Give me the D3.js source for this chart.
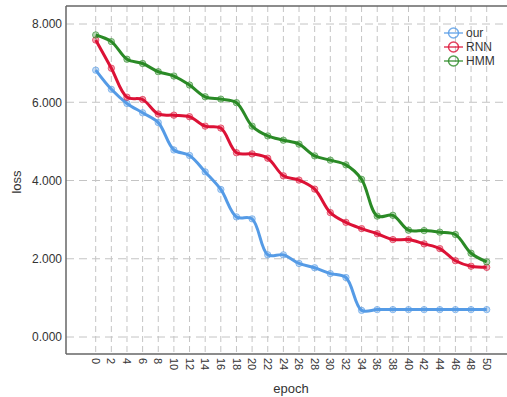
<!DOCTYPE html>
<html><head><meta charset="utf-8">
<script src="https://cdn.jsdelivr.net/npm/d3@7"></script>
<style>
html,body{margin:0;padding:0;background:#fff;}
svg{display:block;font-family:"Liberation Sans",Arial,sans-serif;}
</style></head>
<body><svg id="c" width="507" height="397"></svg>
<script>
const epochs = [0,2,4,6,8,10,12,14,16,18,20,22,24,26,28,30,32,34,36,38,40,42,44,46,48,50];
const ourLoss = [6.82,6.33,5.97,5.73,5.48,4.78,4.64,4.22,3.77,3.07,3.02,2.10,2.10,1.88,1.77,1.62,1.52,0.68,0.70,0.70,0.70,0.70,0.70,0.70,0.70,0.70];
const rnnLoss = [7.59,6.87,6.13,6.07,5.70,5.67,5.63,5.39,5.34,4.71,4.68,4.57,4.12,4.01,3.78,3.18,2.93,2.77,2.64,2.49,2.49,2.38,2.26,1.95,1.81,1.78];
const hmmLoss = [7.72,7.55,7.10,6.99,6.78,6.67,6.44,6.14,6.08,5.99,5.39,5.14,5.03,4.93,4.63,4.52,4.40,4.03,3.09,3.11,2.73,2.72,2.68,2.62,2.14,1.92];
const seriesNames = ["our","RNN","HMM"];
const seriesColors = ["#559be6","#dc1236","#2a8a26"];
const yTicks = [0,2,4,6,8];

const svg = d3.select("#c");
const L=66, R=507, T=6, B=354;
const x = d3.scaleLinear().domain([0,50]).range([95.7,486.7]);
const y = d3.scaleLinear().domain([0,8]).range([337,24]);

// grid
const g = svg.append("g");
g.selectAll(".vg").data(epochs).enter().append("line")
  .attr("x1",d=>x(d)).attr("x2",d=>x(d)).attr("y1",T).attr("y2",B)
  .attr("stroke","#c4c4c4").attr("stroke-width",1).attr("stroke-dasharray","6,4");
g.selectAll(".hg").data(yTicks).enter().append("line")
  .attr("x1",L).attr("x2",R).attr("y1",d=>y(d)).attr("y2",d=>y(d))
  .attr("stroke","#c4c4c4").attr("stroke-width",1).attr("stroke-dasharray","8,5");

// axes frame
svg.append("line").attr("x1",L).attr("x2",R).attr("y1",T).attr("y2",T).attr("stroke","#666").attr("stroke-width",1.5);
svg.append("line").attr("x1",L).attr("x2",L).attr("y1",T).attr("y2",B).attr("stroke","#666").attr("stroke-width",1.5);
svg.append("line").attr("x1",L).attr("x2",R).attr("y1",B).attr("y2",B).attr("stroke","#666").attr("stroke-width",1.5);

// y tick labels
const yAxis = d3.axisLeft(y).tickValues(yTicks).tickFormat(d3.format(".3f")).tickSize(0).tickPadding(4);
const ya = svg.append("g").attr("transform",`translate(${L},0)`).call(yAxis);
ya.select(".domain").remove();
ya.selectAll("text").attr("font-size",12).attr("fill","#333").attr("font-family","Liberation Sans, Arial, sans-serif");

// x tick labels rotated
const xa = svg.append("g").attr("transform",`translate(0,${B})`);
xa.selectAll("text").data(epochs).enter().append("text")
  .attr("transform",d=>`translate(${x(d)},4) rotate(90)`)
  .attr("dy","0.35em").attr("text-anchor","start")
  .attr("font-size",11).attr("fill","#333").text(d=>d);

// titles
svg.append("text").attr("transform","translate(21,182) rotate(-90)").attr("text-anchor","middle")
  .attr("font-size",13).attr("fill","#333").text("loss");
svg.append("text").attr("x",291).attr("y",393).attr("text-anchor","middle")
  .attr("font-size",13).attr("fill","#333").text("epoch");

// series
const data = [ourLoss,rnnLoss,hmmLoss];
const line = d3.line().x((d,i)=>x(epochs[i])).y(d=>y(d)).curve(d3.curveCatmullRom.alpha(0.5));
data.forEach((vals,k)=>{
  svg.append("path").attr("d",line(vals)).attr("fill","none")
    .attr("stroke",seriesColors[k]).attr("stroke-width",3).attr("stroke-linejoin","round");
  svg.append("g").selectAll("circle").data(vals).enter().append("circle")
    .attr("cx",(d,i)=>x(epochs[i])).attr("cy",d=>y(d)).attr("r",3.2)
    .attr("fill",seriesColors[k]).attr("fill-opacity",0.35)
    .attr("stroke",seriesColors[k]).attr("stroke-opacity",0.6).attr("stroke-width",1);
});

// legend
const lg = svg.append("g");
seriesNames.forEach((n,k)=>{
  const yy = 33 + k*14;
  lg.append("line").attr("x1",444).attr("x2",463).attr("y1",yy).attr("y2",yy)
    .attr("stroke",seriesColors[k]).attr("stroke-width",1.5).attr("stroke-opacity",0.8);
  lg.append("circle").attr("cx",453.5).attr("cy",yy).attr("r",5)
    .attr("fill","none").attr("stroke",seriesColors[k]).attr("stroke-width",1.5).attr("stroke-opacity",0.8);
  lg.append("text").attr("x",466).attr("y",yy).attr("dy","0.35em")
    .attr("font-size",12).attr("fill","#333").text(n);
});
</script></body></html>
